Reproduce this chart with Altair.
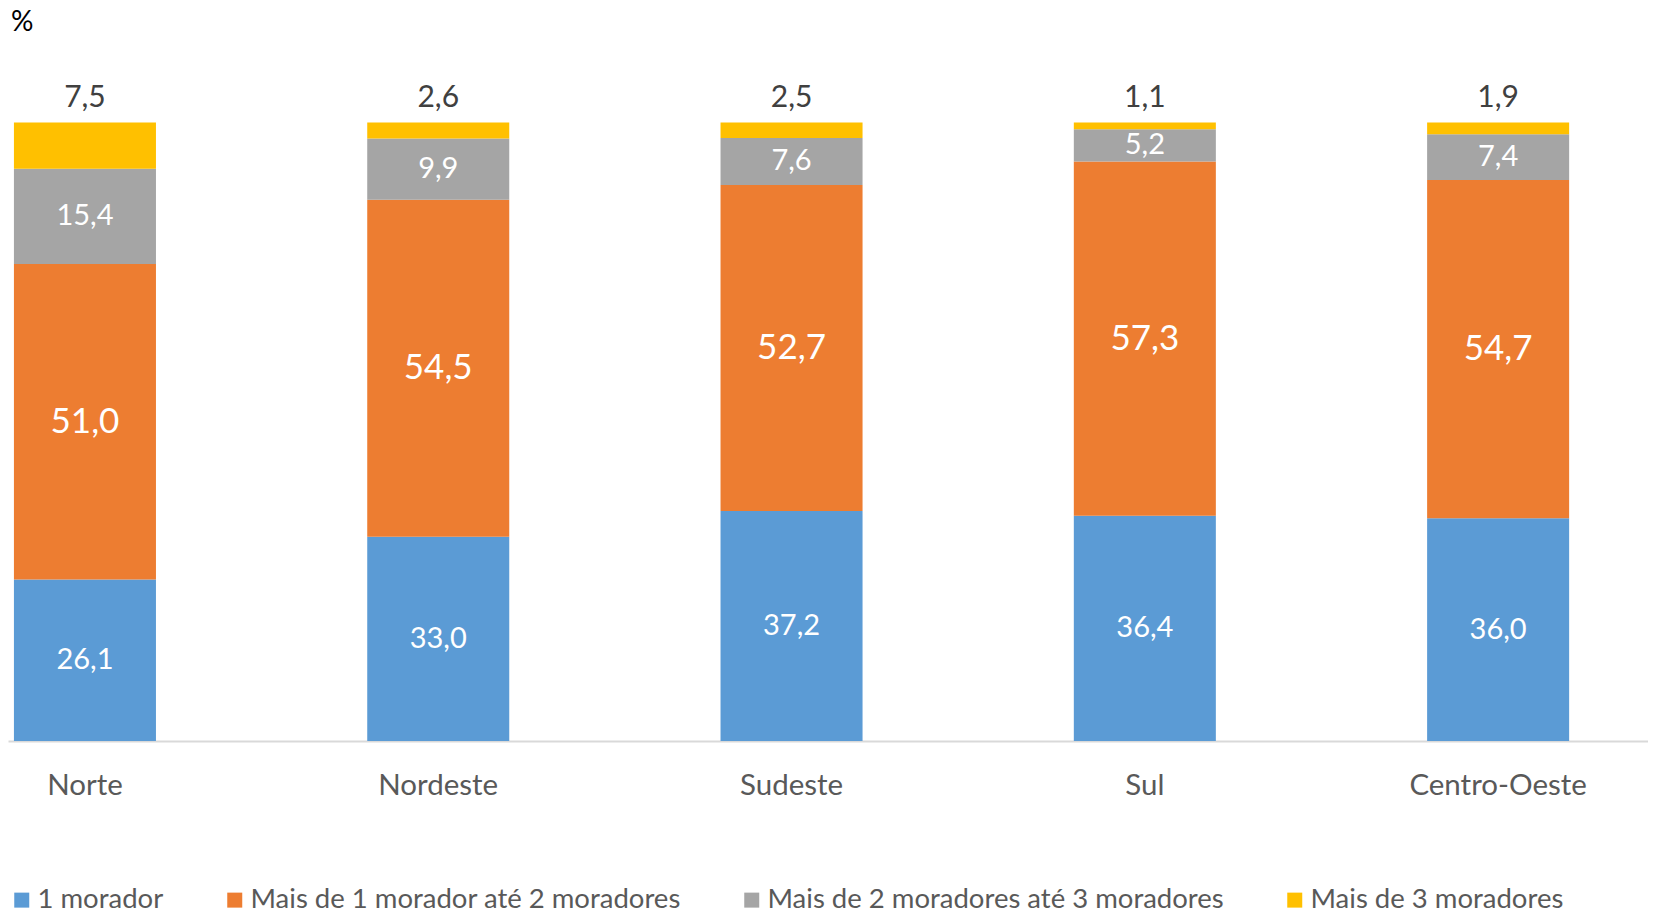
import altair as alt
import pandas as pd

regions = ["Norte", "Nordeste", "Sudeste", "Sul", "Centro-Oeste"]
categories = [
    "1 morador",
    "Mais de 1 morador até 2 moradores",
    "Mais de 2 moradores até 3 moradores",
    "Mais de 3 moradores",
]
um_morador = [26.1, 33.0, 37.2, 36.4, 36.0]
ate_2 = [51.0, 54.5, 52.7, 57.3, 54.7]
ate_3 = [15.4, 9.9, 7.6, 5.2, 7.4]
mais_3 = [7.5, 2.6, 2.5, 1.1, 1.9]
colors = ["#5B9BD5", "#ED7D31", "#A5A5A5", "#FFC000"]

rows = []
for ci, (cat, vals) in enumerate(zip(categories, [um_morador, ate_2, ate_3, mais_3])):
    for r, v in zip(regions, vals):
        rows.append({"regiao": r, "cat": cat, "ordem": ci, "valor": v})
df = pd.DataFrame(rows)

FONT = "Lato"

x_enc = alt.X(
    "regiao:N",
    sort=regions,
    scale=alt.Scale(paddingInner=0.598, paddingOuter=0.12, align=0.07),
    axis=alt.Axis(
        title=None,
        labelAngle=0,
        domainColor="#D9D9D9",
        domainWidth=2,
        ticks=False,
        tickSize=0,
        grid=False,
        labelFont=FONT,
        labelFontSize=29.5,
        labelColor="#595959",
        labelPadding=44,
        labelBaseline="middle",
    ),
)
y_scale = alt.Scale(domain=[0, 118.5], nice=False, zero=True)

base = (
    alt.Chart(df)
    .transform_stack(
        stack="valor",
        groupby=["regiao"],
        as_=["v0", "v1"],
        sort=[alt.SortField("ordem", order="ascending")],
    )
    .transform_calculate(
        mid="(datum.v0 + datum.v1) / 2",
        rotulo="replace(format(datum.valor, '.1f'), '.', ',')",
    )
)

bars = base.mark_bar().encode(
    x=x_enc,
    y=alt.Y("v0:Q", scale=y_scale, axis=None),
    y2="v1:Q",
    color=alt.Color(
        "cat:N",
        sort=categories,
        scale=alt.Scale(domain=categories, range=colors),
        legend=alt.Legend(
            title=None,
            orient="none",
            legendX=0,
            legendY=878,
            direction="horizontal",
            symbolType="square",
            symbolSize=225,
            symbolStrokeWidth=0,
            labelFont=FONT,
            labelFontSize=27.5,
            labelColor="#595959",
            labelOffset=2,
            columnPadding=57,
            labelLimit=0,
        ),
    ),
)

lbl_small = (
    base.transform_filter("datum.ordem == 0 || datum.ordem == 2")
    .mark_text(font=FONT, fontSize=29, color="white", baseline="middle")
    .encode(x=x_enc, y=alt.Y("mid:Q", scale=y_scale, axis=None), text="rotulo:N")
)
lbl_big = (
    base.transform_filter("datum.ordem == 1")
    .mark_text(font=FONT, fontSize=35, color="white", baseline="middle")
    .encode(x=x_enc, y=alt.Y("mid:Q", scale=y_scale, axis=None), text="rotulo:N")
)
lbl_top = (
    base.transform_filter("datum.ordem == 3")
    .mark_text(font=FONT, fontSize=30, color="#404040", baseline="middle", dy=-24)
    .encode(x=x_enc, y=alt.Y("v1:Q", scale=y_scale, axis=None), text="rotulo:N")
)

pct = (
    alt.Chart(pd.DataFrame({"t": ["%"]}))
    .mark_text(font=FONT, fontSize=28, color="black", align="left", baseline="middle")
    .encode(x=alt.value(3), y=alt.value(15), text="t:N")
)

chart = (
    alt.layer(bars, lbl_small, lbl_big, lbl_top, pct)
    .properties(
        width=1640,
        height=733,
        padding={"left": 0, "top": 0, "right": 0, "bottom": 168},
        autosize=alt.AutoSizeParams(type="none"),
    )
    .configure_view(stroke=None)
)

chart.save("out.html", embed_options={"renderer": "svg", "actions": False})
